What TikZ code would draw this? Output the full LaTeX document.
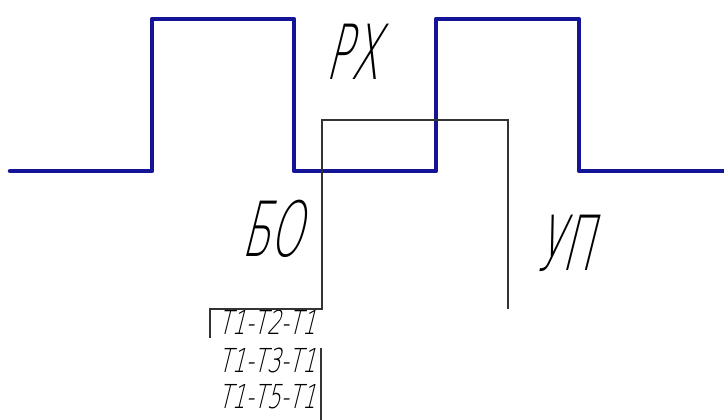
\documentclass[tikz,border=0pt]{standalone}
\usepackage{fontspec}
\setmainfont{Liberation Sans}
\newfontfamily\gostbig[FakeSlant=0.25,FakeStretch=0.54]{DejaVu Sans ExtraLight}
\newfontfamily\gostsmall[FakeSlant=0.25,FakeStretch=0.66]{DejaVu Sans ExtraLight}
\definecolor{wave}{RGB}{20,20,150}

\begin{document}
\begin{tikzpicture}[x=1pt, y=-1pt,
    pulse/.style = {draw=wave, line width=4.5pt, line join=round, line cap=round},
    thin/.style = {draw=black!80, line width=1.2pt},
    bigtext/.style = {inner sep=0pt, font=\gostbig\fontsize{76}{76}\selectfont},
    rowtext/.style = {inner sep=0pt, font=\gostsmall\fontsize{33}{33}\selectfont}]
    \useasboundingbox (0,0) rectangle (724,420);
    % pulse train
    \draw[pulse] (10,171) -- (152,171) -- (152,19) -- (294,19) -- (294,171)
        -- (436,171) -- (436,19) -- (579,19) -- (579,171) -- (724,171);
    % labels
    \node[bigtext] (rx) at (352,52) {РХ};
    \node[bigtext] (bo) at (272,229) {БО};
    \node[bigtext] (up) at (564,243) {УП};
    \node[rowtext] (r1) at (267,322) {Т1-Т2-Т1};
    \node[rowtext] (r2) at (267,360) {Т1-Т3-Т1};
    \node[rowtext] (r3) at (267,397) {Т1-Т5-Т1};
    % leader lines
    \coordinate (lt) at (322,120);
    \coordinate (rt) at (508,120);
    \coordinate (rb) at (508,309);
    \coordinate (lb) at (322,309);
    \coordinate (bl) at (210,309);
    \coordinate (bd) at (210,338);
    \coordinate (st) at (321,348);
    \coordinate (sb) at (321,420);
    \draw[thin] (rb) -- (rt) -- (lt) -- (lb) -- (bl) -- (bd);
    \draw[thin] (st) -- (sb);
\end{tikzpicture}
\end{document}
